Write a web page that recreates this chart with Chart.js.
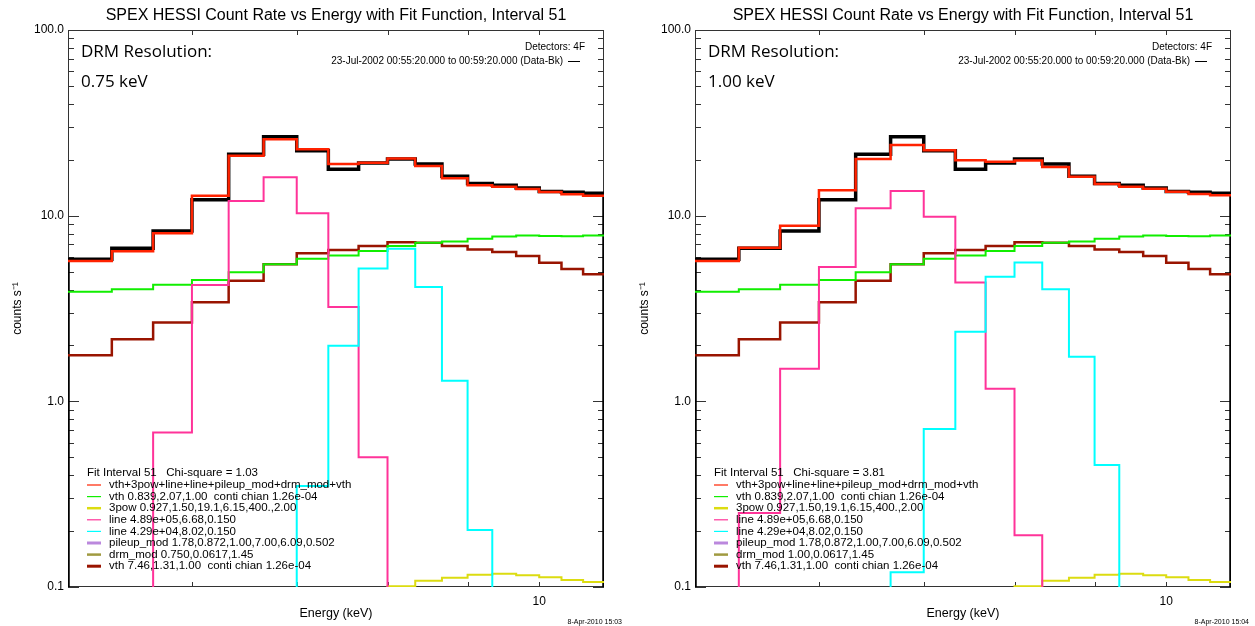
<!DOCTYPE html>
<html>
<head>
<meta charset="utf-8">
<script src="https://cdn.jsdelivr.net/npm/chart.js@4.4.1/dist/chart.umd.min.js"></script>
<style>
  html, body { margin: 0; padding: 0; background: #fff; }
  #wrap { position: relative; width: 1255px; height: 626px; }
  canvas { position: absolute; top: 0; }
</style>
</head>
<body>
<div id="wrap">
  <canvas id="left" width="627" height="626" style="left:0;width:627px;height:626px"></canvas>
  <canvas id="right" width="627" height="626" style="left:627px;width:627px;height:626px"></canvas>
</div>
<script>
// energy bin edges (keV), 1/3 keV wide
const edges = [5.0, 5.333, 5.667, 6.0, 6.333, 6.667, 7.0, 7.333, 7.667, 8.0,
  8.333, 8.667, 9.0, 9.333, 9.667, 10.0, 10.333, 10.667, 11.0];
const xTicks = [6, 7, 8, 9, 10];
const yTicks = [0.1, 1, 10, 100];

// measured rate (Data-Bk), same in both panels
const dataBk = [5.82, 6.67, 8.26, 12.2, 21.4, 26.6, 22.4, 17.8, 19.2, 20.2,
  19.0, 16.3, 14.9, 14.6, 14.1, 13.5, 13.35, 13.2];
// components that don't change with the DRM resolution
const vthCool = [3.89, 4.02, 4.25, 4.5, 4.95, 5.48, 5.86, 6.11, 6.45, 6.86,
  7.14, 7.27, 7.51, 7.73, 7.83, 7.78, 7.75, 7.83];
const vthHot = [1.77, 2.16, 2.66, 3.42, 4.46, 5.48, 6.27, 6.53, 6.86, 7.2,
  7.14, 6.86, 6.58, 6.37, 6.06, 5.58, 5.16, 4.83];
const pow3 = [null, null, null, null, null, null, null, null, null, 0.101,
  0.108, 0.112, 0.1165, 0.118, 0.1156, 0.1128, 0.109, 0.1064];

// DRM resolution 0.75 keV
const model075 = [5.7, 6.43, 8.03, 12.8, 21.0, 25.8, 22.8, 19.0, 19.3, 20.3,
  18.5, 15.9, 14.6, 14.3, 13.9, 13.4, 13.06, 12.8];
const line668_075 = [null, null, 0.68, 4.23, 12.0, 16.1, 10.3, 3.22, 0.50, null,
  null, null, null, null, null, null, null, null];
const line802_075 = [null, null, null, null, null, null, 0.35, 1.99, 5.2, 6.64,
  4.13, 1.29, 0.203, null, null, null, null, null];

// DRM resolution 1.00 keV
const model100 = [5.7, 6.71, 8.82, 13.7, 20.2, 24.0, 22.5, 19.9, 19.5, 19.85,
  18.3, 16.2, 14.8, 14.3, 13.96, 13.45, 13.1, 12.9];
const line668_100 = [null, 0.25, 1.5, 5.29, 10.95, 13.57, 9.86, 4.37, 1.17, 0.19,
  null, null, null, null, null, null, null, null];
const line802_100 = [null, null, null, null, null, 0.12, 0.71, 2.37, 4.69, 5.6,
  4.02, 1.74, 0.454, null, null, null, null, null];

const legendTitles = ['Fit Interval 51   Chi-square = 1.03', 'Fit Interval 51   Chi-square = 3.81'];
const legend075 = [
  'vth+3pow+line+line+pileup_mod+drm_mod+vth',
  'vth 0.839,2.07,1.00  conti chian 1.26e-04',
  '3pow 0.927,1.50,19.1,6.15,400.,2.00',
  'line 4.89e+05,6.68,0.150',
  'line 4.29e+04,8.02,0.150',
  'pileup_mod 1.78,0.872,1.00,7.00,6.09,0.502',
  'drm_mod 0.750,0.0617,1.45',
  'vth 7.46,1.31,1.00  conti chian 1.26e-04'
];
const legend100 = legend075.slice();
legend100[6] = 'drm_mod 1.00,0.0617,1.45';

const C = {
  data: '#000000', model: '#ff2200', cool: '#11ee00', pow: '#dcdc10',
  l668: '#ff3399', l802: '#00ffff', pileup: '#bb88dd', drm: '#a09a40', hot: '#991400'
};
const legendColors = [C.model, C.cool, C.pow, C.l668, C.l802, C.pileup, C.drm, C.hot];
const legendWidths = [1.2, 1.2, 2.5, 1.2, 1.2, 3, 2.5, 3];

const FLOOR = 0.01; // bins off the bottom of the plot

function steps(vals, closed) {
  const pts = [];
  if (closed) pts.push({ x: edges[0], y: FLOOR });
  vals.forEach((v, i) => {
    const y = v === null ? FLOOR : v;
    pts.push({ x: edges[i], y: y }, { x: edges[i + 1], y: y });
  });
  if (closed) pts.push({ x: edges[edges.length - 1], y: FLOOR });
  return pts;
}

function ds(vals, color, width, order, closed) {
  return {
    data: steps(vals, closed), borderColor: color, borderWidth: width,
    pointRadius: 0, fill: false, tension: 0, order: order,
    borderJoinStyle: 'miter', borderCapStyle: 'butt'
  };
}

const frame = {
  id: 'frame',
  beforeDatasetsDraw(chart) {
    const { ctx, chartArea: a, scales: { x, y } } = chart;
    ctx.save();
    ctx.strokeStyle = '#333';
    ctx.lineWidth = 1;
    ctx.beginPath();
    ctx.rect(a.left + 0.5, a.top + 0.5, a.right - a.left - 1, a.bottom - a.top - 1);
    for (let d = -1; d < 2; d++) {
      for (let m = 2; m < 10; m++) {
        const py = Math.round(y.getPixelForValue(m * Math.pow(10, d))) + 0.5;
        ctx.moveTo(a.left, py); ctx.lineTo(a.left + 6, py);
        ctx.moveTo(a.right, py); ctx.lineTo(a.right - 6, py);
      }
    }
    yTicks.forEach(v => {
      const py = Math.round(y.getPixelForValue(v)) + 0.5;
      ctx.moveTo(a.left, py); ctx.lineTo(a.left + 11, py);
      ctx.moveTo(a.right, py); ctx.lineTo(a.right - 11, py);
    });
    xTicks.forEach(v => {
      const px = Math.round(x.getPixelForValue(v)) + 0.5;
      ctx.moveTo(px, a.top); ctx.lineTo(px, a.top + 5);
      ctx.moveTo(px, a.bottom); ctx.lineTo(px, a.bottom - 5);
    });
    ctx.stroke();
    ctx.restore();
  }
};

const notes = {
  id: 'notes',
  afterDraw(chart, args, o) {
    const { ctx, chartArea: a } = chart;
    ctx.save();
    ctx.fillStyle = '#000';
    ctx.strokeStyle = '#000';
    ctx.textBaseline = 'alphabetic';
    ctx.textAlign = 'left';
    ctx.font = '17px "Open Sans"';
    ctx.fillText('DRM Resolution:', a.left + 13, 57);
    ctx.fillText(o.drm, a.left + 13, 87);

    ctx.font = '10px "Liberation Sans"';
    ctx.textAlign = 'right';
    ctx.textBaseline = 'middle';
    ctx.fillText('Detectors: 4F', a.right - 19, 47);
    ctx.fillText('23-Jul-2002 00:55:20.000 to 00:59:20.000 (Data-Bk)', a.right - 41, 61);
    ctx.lineWidth = 1;
    ctx.beginPath();
    ctx.moveTo(a.right - 36, 61.5); ctx.lineTo(a.right - 24, 61.5);
    ctx.stroke();

    // fit legend, bottom left
    ctx.textAlign = 'left';
    ctx.font = '11.5px "Liberation Sans"';
    const x0 = a.left + 19;
    ctx.fillText(o.title, x0, 473);
    o.items.forEach((t, i) => {
      const yy = 485 + i * 11.6;
      ctx.strokeStyle = legendColors[i];
      ctx.lineWidth = legendWidths[i];
      ctx.beginPath();
      ctx.moveTo(x0, yy); ctx.lineTo(x0 + 14, yy);
      ctx.stroke();
      ctx.fillText(t, x0 + 22, yy);
    });

    ctx.font = '7px "Liberation Sans"';
    ctx.textAlign = 'right';
    ctx.fillText(o.stamp, a.right + 18, 622);
    ctx.restore();
  }
};

function makeChart(id, model, l668, l802, title, items, drm, stamp) {
  return new Chart(document.getElementById(id), {
    type: 'line',
    data: {
      datasets: [
        ds(dataBk, C.data, 3.5, 6, true),
        ds(vthCool, C.cool, 2, 3, false),
        ds(pow3, C.pow, 2, 4, false),
        ds(l668, C.l668, 2, 2, false),
        ds(l802, C.l802, 2, 1, false),
        ds(vthHot, C.hot, 2.5, 5, false),
        ds(model, C.model, 2.5, 0, false)
      ]
    },
    options: {
      responsive: false,
      animation: false,
      events: [],
      layout: { padding: { left: 0, right: 23, top: 0, bottom: 0 } },
      plugins: {
        legend: { display: false },
        tooltip: { enabled: false },
        title: {
          display: true,
          fullSize: false,
          text: 'SPEX HESSI Count Rate vs Energy with Fit Function, Interval 51',
          color: '#000',
          font: { family: 'Liberation Sans', size: 16, weight: 'normal', lineHeight: 1.2 },
          padding: { top: 6, bottom: 4.8 }
        },
        notes: { drm: drm, title: title, items: items, stamp: stamp }
      },
      scales: {
        x: {
          type: 'logarithmic',
          min: 5, max: 11,
          afterBuildTicks: s => { s.ticks = xTicks.map(v => ({ value: v })); },
          afterFit: s => { s.height = 39; },
          grid: { display: false, drawTicks: false },
          border: { display: false },
          ticks: {
            autoSkip: false, maxRotation: 0, padding: 7, color: '#000',
            font: { family: 'Liberation Sans', size: 12 },
            callback: v => (v === 10 ? '10' : '')
          },
          title: {
            display: true, text: 'Energy (keV)', color: '#000',
            font: { family: 'Liberation Sans', size: 12.5 },
            padding: { top: 0, bottom: 5 }
          }
        },
        y: {
          type: 'logarithmic',
          min: 0.1, max: 100,
          afterBuildTicks: s => { s.ticks = yTicks.map(v => ({ value: v })); },
          afterFit: s => { s.width = 68; },
          grid: { display: false, drawTicks: false },
          border: { display: false },
          ticks: {
            padding: 4, color: '#000',
            font: { family: 'Liberation Sans', size: 12 },
            callback: v => Number(v).toFixed(1)
          },
          title: {
            display: true, text: 'counts s⁻¹', color: '#000',
            font: { family: 'Liberation Sans', size: 12 },
            padding: { top: 10, bottom: 0 }
          }
        }
      }
    },
    plugins: [frame, notes]
  });
}

makeChart('left', model075, line668_075, line802_075, legendTitles[0], legend075, '0.75 keV', '8-Apr-2010 15:03');
makeChart('right', model100, line668_100, line802_100, legendTitles[1], legend100, '1.00 keV', '8-Apr-2010 15:04');
</script>
</body>
</html>
